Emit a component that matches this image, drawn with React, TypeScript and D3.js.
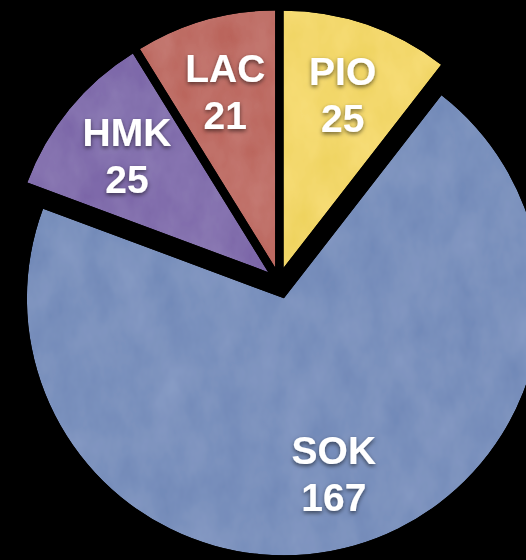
import React from "react";
import * as d3 from "d3";

const labels = ["PIO", "SOK", "HMK", "LAC"];
const values = [25, 167, 25, 21];
const colors = ["#f3d86c", "#7b91bd", "#8471ae", "#bf6f67"];
const explode = [14, 18, 14, 14];

const width = 526;
const height = 560;
const cx = 279;
const cy = 281;
const radius = 257;

const App = () => {
  const pie = d3
    .pie<number>()
    .sort(null)
    .startAngle(0)
    .endAngle(2 * Math.PI);
  const arcs = pie(values);

  const arc = d3.arc<d3.PieArcDatum<number>>().innerRadius(0).outerRadius(radius);

  return (
    <svg
      width={width}
      height={height}
      style={{ position: "absolute", left: 0, top: 0, background: "#000" }}
    >
      <defs>
        {/* light paper-like mottling on the slices */}
        <filter id="tex" x="-5%" y="-5%" width="110%" height="110%">
          <feTurbulence type="fractalNoise" baseFrequency="0.03 0.018" numOctaves="4" seed="7" result="noise" />
          <feColorMatrix
            in="noise"
            type="matrix"
            values="1 0 0 0 0  1 0 0 0 0  1 0 0 0 0  0 0 0 0 1"
            result="gray"
          />
          <feComposite in="SourceGraphic" in2="gray" operator="arithmetic" k1="0" k2="1" k3="0.1" k4="-0.05" result="mix" />
          <feComposite in="mix" in2="SourceGraphic" operator="in" />
        </filter>
        <filter id="shadow" x="-20%" y="-20%" width="140%" height="160%">
          <feDropShadow dx="0" dy="2" stdDeviation="2" floodColor="#000" floodOpacity="0.55" />
        </filter>
      </defs>
      <rect width={width} height={height} fill="#000" />
      {arcs.map((a, i) => {
        const mid = (a.startAngle + a.endAngle) / 2;
        const dx = Math.sin(mid) * explode[i];
        const dy = -Math.cos(mid) * explode[i];
        const lr = radius * 0.71;
        const lx = Math.sin(mid) * lr;
        const ly = -Math.cos(mid) * lr;
        return (
          <g key={labels[i]} transform={`translate(${cx + dx},${cy + dy})`}>
            <path d={arc(a) ?? ""} fill={colors[i]} filter="url(#tex)" />
            <g
              filter="url(#shadow)"
              fill="#fff"
              fontFamily="'Liberation Sans', Arial, Helvetica, sans-serif"
              fontWeight="bold"
              fontSize={39}
              textAnchor="middle"
            >
              <text x={lx} y={ly - 10}>
                {labels[i]}
              </text>
              <text x={lx} y={ly + 37}>
                {values[i]}
              </text>
            </g>
          </g>
        );
      })}
    </svg>
  );
};

export default App;
